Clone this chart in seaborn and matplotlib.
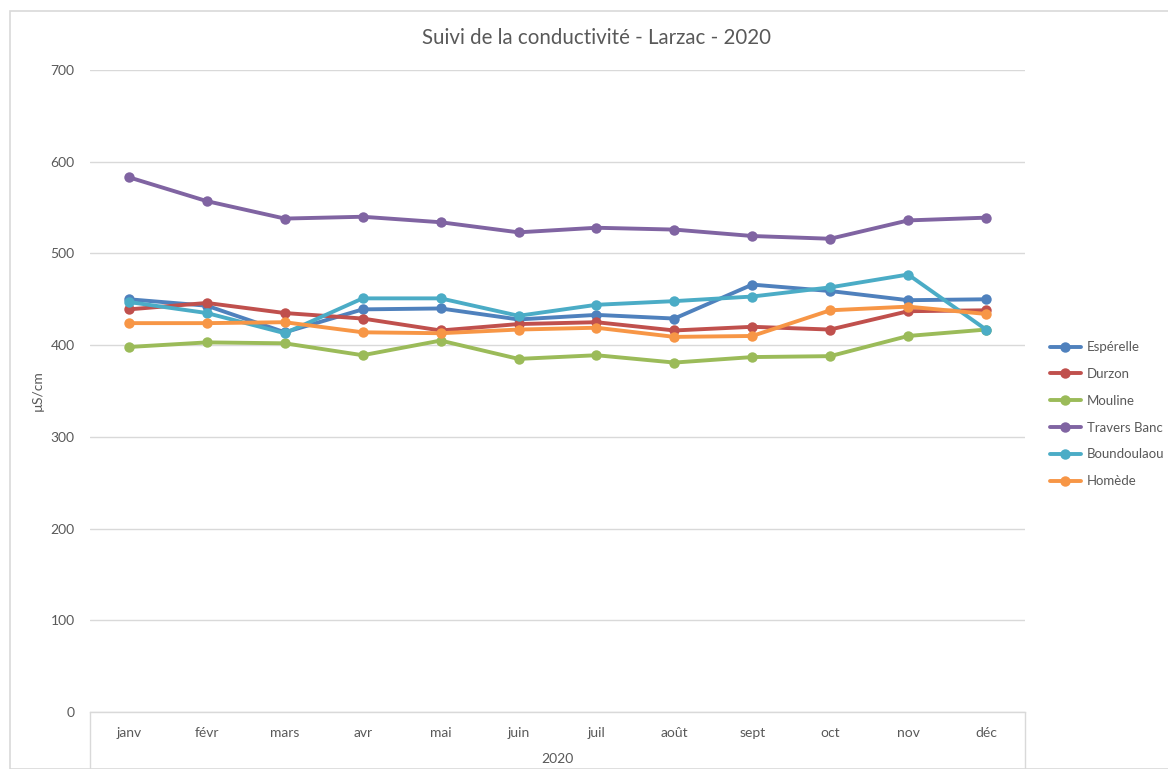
import matplotlib
matplotlib.use("Agg")
import matplotlib.pyplot as plt
import seaborn as sns
import pandas as pd
from matplotlib.patches import Rectangle

months = ["janv", "févr", "mars", "avr", "mai", "juin", "juil", "août", "sept", "oct", "nov", "déc"]
stations = ["Espérelle", "Durzon", "Mouline", "Travers Banc", "Boundoulaou", "Homède"]

esperelle = [450, 443, 414, 439, 440, 428, 433, 429, 466, 459, 449, 450]
durzon = [439, 446, 435, 429, 416, 423, 425, 416, 420, 417, 437, 438]
mouline = [398, 403, 402, 389, 405, 385, 389, 381, 387, 388, 410, 417]
travers_banc = [583, 557, 538, 540, 534, 523, 528, 526, 519, 516, 536, 539]
boundoulaou = [447, 435, 413, 451, 451, 432, 444, 448, 453, 463, 477, 417]
homede = [424, 424, 425, 414, 413, 417, 419, 409, 410, 438, 442, 434]

colors = ["#4F81BD", "#C0504D", "#9BBB59", "#8064A2", "#4BACC6", "#F79646"]
series = [esperelle, durzon, mouline, travers_banc, boundoulaou, homede]

rows = []
for name, vals in zip(stations, series):
    for i, (m, v) in enumerate(zip(months, vals)):
        rows.append({"station": name, "idx": i, "mois": m, "valeur": v})
df = pd.DataFrame(rows)

sns.set_theme(style="white")
plt.rcParams["font.family"] = ["Lato", "DejaVu Sans"]
txt = "#595959"
grid = "#D9D9D9"

W, H = 1168, 769
fig = plt.figure(figsize=(W / 100, H / 100), dpi=100)
fig.patches.append(Rectangle((10 / W, 0), 1.2, 1 - 11 / H, transform=fig.transFigure,
                             fill=False, edgecolor=grid, lw=1.2))
ax = fig.add_axes([90 / W, (H - 712) / H, 935 / W, 642 / H])

sns.lineplot(data=df, x="idx", y="valeur", hue="station", hue_order=stations,
             palette=colors, marker="o", markersize=7.5, markeredgewidth=0,
             linewidth=2.8, sort=False, ax=ax, legend=True)

ax.set_xlim(-0.5, 11.5)
ax.set_ylim(0, 700)
ax.set_yticks(range(0, 701, 100))
ax.set_xticks(range(12))
ax.set_xticklabels(months)
ax.tick_params(axis="both", length=0, colors=txt, labelsize=10)
ax.tick_params(axis="y", pad=11)
ax.tick_params(axis="x", pad=11)
ax.yaxis.grid(True, color=grid, lw=1)
ax.set_axisbelow(True)
for s in ["top", "right", "left"]:
    ax.spines[s].set_visible(False)
ax.spines["bottom"].set_color(grid)
ax.spines["bottom"].set_linewidth(1)
ax.set_xlabel("")
ax.set_ylabel("µS/cm", color=txt, fontsize=10, labelpad=5)

# category group separators and group label
dy = -57 / 642
for xa in (0, 1):
    ax.plot([xa, xa], [0, dy], transform=ax.transAxes, color=grid, lw=1, clip_on=False)
ax.text(0.5, -47 / 642, "2020", transform=ax.transAxes, ha="center", va="center",
        color=txt, fontsize=10)

fig.text(597 / W, 1 - 38 / H, "Suivi de la conductivité - Larzac - 2020", ha="center",
         va="center", color=txt, fontsize=14.8)

handles, labels = ax.get_legend_handles_labels()
leg = ax.legend(handles, labels, loc="upper left", bbox_to_anchor=(1045 / W, 1 - 336 / H),
                bbox_transform=fig.transFigure, frameon=False, fontsize=9.5,
                labelspacing=1.12, handlelength=2.3, handletextpad=0.5, borderaxespad=0)
for t in leg.get_texts():
    t.set_color(txt)

fig.savefig("out.png", dpi=100)
